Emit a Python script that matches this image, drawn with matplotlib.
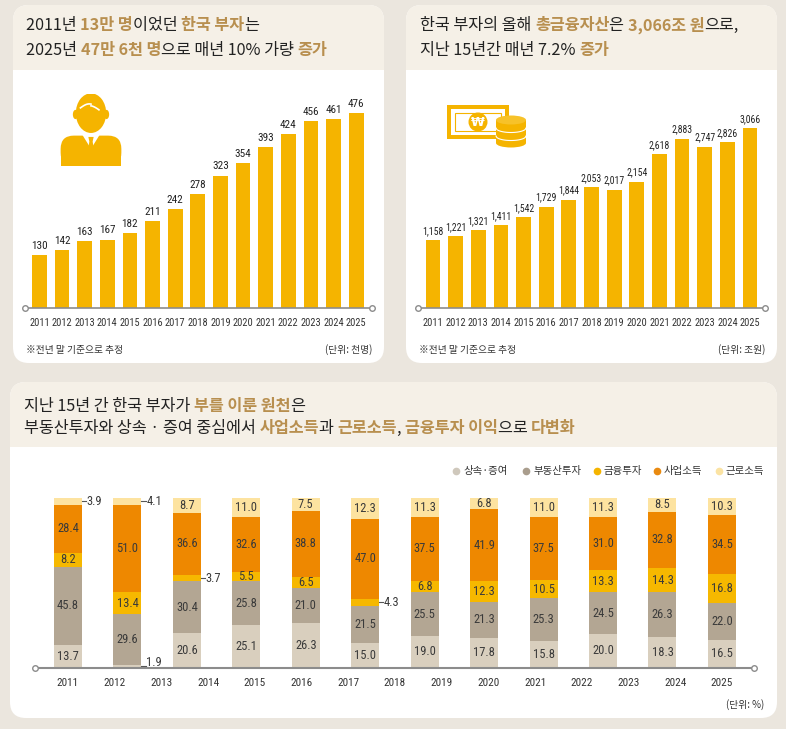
import matplotlib
matplotlib.use("Agg")
import matplotlib.pyplot as plt
from matplotlib import font_manager
from matplotlib.patches import FancyBboxPatch, Rectangle, Ellipse, Polygon, Circle
import numpy as np

# --------------------------
# Data
# --------------------------
years = list(range(2011, 2026))
rich_count = [130, 142, 163, 167, 182, 211, 242, 278, 323, 354, 393, 424, 456, 461, 476]
fin_assets = [1158, 1221, 1321, 1411, 1542, 1729, 1844, 2053, 2017, 2154,
              2618, 2883, 2747, 2826, 3066]

source_names = ["상속·증여", "부동산투자", "금융투자", "사업소득", "근로소득"]
inherit = [13.7, 1.9, 20.6, 25.1, 26.3, 15.0, 19.0, 17.8, 15.8, 20.0, 18.3, 16.5]
realestate = [45.8, 29.6, 30.4, 25.8, 21.0, 21.5, 25.5, 21.3, 25.3, 24.5, 26.3, 22.0]
financial = [8.2, 13.4, 3.7, 5.5, 6.5, 4.3, 6.8, 12.3, 10.5, 13.3, 14.3, 16.8]
business = [28.4, 51.0, 36.6, 32.6, 38.8, 47.0, 37.5, 41.9, 37.5, 31.0, 32.8, 34.5]
labor = [3.9, 4.1, 8.7, 11.0, 7.5, 12.3, 11.3, 6.8, 11.0, 11.3, 8.5, 10.3]

# --------------------------
# Style
# --------------------------
W, H = 786, 729
BG = "#ebe6de"
HEAD = "#f5f0e7"
DARK = "#222222"
GOLD = "#b88f4f"
BAR = "#f5b400"
seg_colors = ["#d9cfbe", "#b3a693", "#f6b800", "#ee8800", "#fde3a0"]
dot_colors = ["#cfc8bc", "#a99d8d", "#f5b400", "#e98a10", "#fbe3a3"]

available = {f.name for f in font_manager.fontManager.ttflist}


def pick(*names):
    for n in names:
        if n in available:
            return n
    return "DejaVu Sans"


KR = "Noto Sans CJK KR"
NUM = pick("Liberation Sans Narrow", "Roboto Condensed", "Roboto")
print("number font:", NUM)

fig = plt.figure(figsize=(W / 100, H / 100), dpi=100)
fig.patch.set_facecolor(BG)

bg = fig.add_axes([0, 0, 1, 1])
bg.set_xlim(0, W)
bg.set_ylim(H, 0)
bg.axis("off")


def panel(x0, y0, x1, y1, head_end):
    box = FancyBboxPatch((x0, y0), x1 - x0, y1 - y0,
                         boxstyle="round,pad=0,rounding_size=16",
                         fc="white", ec="none")
    bg.add_patch(box)
    head = Rectangle((x0, y0), x1 - x0, head_end - y0, fc=HEAD, ec="none")
    bg.add_patch(head)
    head.set_clip_path(box)


def rich(x, y, parts, size=11.7):
    r = fig.canvas.get_renderer()
    for s, c in parts:
        t = bg.text(x, y, s, color=c, fontsize=size, family=KR,
                    fontweight="bold" if c == GOLD else "medium",
                    va="center", ha="left")
        x += t.get_window_extent(r).width


def px_axes(x0, y0, x1, y1):
    return fig.add_axes([x0 / W, 1 - y1 / H, (x1 - x0) / W, (y1 - y0) / H])


panel(13, 5, 384, 363, 70)
panel(406, 5, 777, 363, 70)
panel(10, 382, 777, 718, 447)

rich(26, 25, [("2011년 ", DARK), ("13만 명", GOLD), ("이었던 ", DARK),
              ("한국 부자", GOLD), ("는", DARK)])
rich(26, 50, [("2025년 ", DARK), ("47만 6천 명", GOLD),
              ("으로 매년 10% 가량 ", DARK), ("증가", GOLD)])
rich(420, 25, [("한국 부자의 올해 ", DARK), ("총금융자산", GOLD), ("은 ", DARK),
               ("3,066조 원", GOLD), ("으로,", DARK)])
rich(420, 50, [("지난 15년간 매년 7.2% ", DARK), ("증가", GOLD)])
rich(24, 406, [("지난 15년 간 한국 부자가 ", DARK), ("부를 이룬 원천", GOLD), ("은", DARK)])
rich(24, 428, [("부동산투자와 상속 · 증여 중심에서 ", DARK), ("사업소득", GOLD),
               ("과 ", DARK), ("근로소득", GOLD), (", ", DARK),
               ("금융투자 이익", GOLD), ("으로 ", DARK), ("다변화", GOLD)])

# footnotes
for x0, x1, unit in [(26, 372, "(단위: 천명)"), (419, 765, "(단위: 조원)")]:
    bg.text(x0, 350, "※전년 말 기준으로 추정", family=KR, fontsize=7, color="#333",
            va="center")
    bg.text(x1, 350, unit, family=KR, fontsize=7, color="#333", va="center",
            ha="right")
bg.text(764, 705, "(단위: %)", family=KR, fontsize=7, color="#333", va="center",
        ha="right")

# legend of the bottom chart
for name, c, x in zip(source_names, dot_colors, [456, 526, 597, 657, 719]):
    bg.plot(x, 471, "o", color=c, ms=4.5)
    bg.text(x + 7, 471, name, family=KR, fontsize=7.5, color="#333", va="center")


# --------------------------
# Top bar charts
# --------------------------
def top_chart(rect, values, x_lo, x_hi, y_hi, fmt, lab_size):
    ax = px_axes(*rect)
    x = np.arange(len(values))
    ax.bar(x, values, width=0.65, color=BAR, zorder=2)
    for xi, v in zip(x, values):
        ax.annotate(fmt(v), (xi, v), xytext=(0, 3), textcoords="offset points",
                    ha="center", va="bottom", fontsize=lab_size, family=NUM,
                    color=DARK)
    ax.set_xlim(x_lo, x_hi)
    ax.set_ylim(0, y_hi)
    ax.plot([x_lo, x_hi], [0, 0], color="#8c8c8c", lw=1.2, zorder=3, clip_on=False)
    ax.plot([x_lo, x_hi], [0, 0], "o", mfc="white", mec="#8c8c8c", ms=4,
            mew=1, zorder=4, clip_on=False)
    ax.set_xticks(x)
    ax.set_xticklabels([str(y) for y in years], family=NUM, fontsize=7.5,
                       color="#333")
    ax.tick_params(axis="x", length=0, pad=7)
    ax.set_yticks([])
    for s in ax.spines.values():
        s.set_visible(False)
    ax.patch.set_alpha(0)
    return ax


top_chart((25, 100, 372, 308), rich_count, -0.64, 14.7, 208 / 0.41,
          lambda v: f"{v}", 8)
top_chart((418, 100, 765, 308), fin_assets, -0.66, 14.66, 208 / 0.0587,
          lambda v: f"{v:,}", 7)

# --------------------------
# Icons
# --------------------------
ic = px_axes(58, 94, 124, 166)
ic.set_xlim(0, 100)
ic.set_ylim(0, 109)
ic.axis("off")
ic.add_patch(FancyBboxPatch((4, 0), 92, 46, boxstyle="round,pad=0,rounding_size=20",
                            fc=BAR, ec="none"))
ic.add_patch(Rectangle((4, 0), 92, 15, fc=BAR, ec="none"))
ic.add_patch(Polygon([(37, 47), (50, 26), (63, 47)], fc="white", ec="none"))
ic.add_patch(Polygon([(46, 44), (54, 44), (52.5, 37), (56, 14), (50, 6), (44, 14),
                      (47.5, 37)], fc=BAR, ec="none"))
ic.add_patch(Rectangle((38, 46), 24, 8, fc="white", ec="none"))
ic.add_patch(Ellipse((26.5, 78), 8, 14, fc=BAR, ec="none"))
ic.add_patch(Ellipse((73.5, 78), 8, 14, fc=BAR, ec="none"))
ic.add_patch(Ellipse((50, 80), 46, 60, fc=BAR, ec="none"))
t = np.linspace(0, 1, 30)
ic.plot(34 + 16 * t, 88 + 6 * np.sin(t * np.pi * 0.6), color="white", lw=1.2)
ic.plot(50 + 12 * t, 91 - 6 * t ** 1.5, color="white", lw=1.2)

mo = px_axes(444, 100, 532, 152)
mo.set_xlim(0, 88)
mo.set_ylim(0, 52)
mo.axis("off")
mo.add_patch(Rectangle((3, 13), 62, 34, fc=BAR, ec="none"))
mo.add_patch(Rectangle((7, 17), 54, 26, fc="white", ec="none"))
mo.add_patch(Rectangle((11, 21), 46, 18, fc="white", ec=BAR, lw=0.8))
mo.add_patch(Circle((34, 30), 9.5, fc=BAR, ec="none"))
mo.text(34, 30, "₩", color="white", fontsize=9, fontweight="bold",
        ha="center", va="center", family="DejaVu Sans")
mo.add_patch(Ellipse((67, 9), 30, 9, fc=BAR, ec="none"))
mo.add_patch(Rectangle((52, 9), 30, 23, fc=BAR, ec="none"))
mo.add_patch(Ellipse((67, 32), 30, 9, fc="#f7c229", ec="none"))
for yy in [16, 24]:
    tt = np.linspace(-1, 1, 40)
    mo.plot(67 + 15 * tt, yy - 4.5 * np.sqrt(1 - tt ** 2), color="white", lw=0.8)

# --------------------------
# Bottom stacked chart
# --------------------------
ax = px_axes(35, 494, 754, 668)
series = [inherit, realestate, financial, business, labor]
xb = np.arange(len(inherit))
bottom = np.zeros(len(xb))
bw = 0.47
for si, (vals, c) in enumerate(zip(series, seg_colors)):
    ax.bar(xb, vals, bottom=bottom, width=bw, color=c, zorder=2)
    for xi, v, b in zip(xb, vals, bottom):
        if v >= 5:
            ax.text(xi, b + v / 2, f"{v:.1f}", ha="center", va="center",
                    family=NUM, fontsize=9, color="#3a3a3a", zorder=3)
        else:
            yc = b + v / 2
            x_edge = xi + bw / 2
            ty = yc + 2.5 if si == 0 else yc
            ax.plot([x_edge, x_edge + 0.07], [yc, yc], color="#555", lw=0.8,
                    zorder=3, clip_on=False)
            ax.text(x_edge + 0.08, ty, f"{v:.1f}", ha="left", va="center",
                    family=NUM, fontsize=9, color="#3a3a3a", zorder=3)
    bottom += np.array(vals)

lo, hi = -0.555, 11.54
ax.set_xlim(lo, hi)
ax.set_ylim(0, 174 / 1.7)
ax.plot([lo, hi], [0, 0], color="#8c8c8c", lw=1.5, zorder=3, clip_on=False)
ax.plot([lo, hi], [0, 0], "o", mfc="white", mec="#8c8c8c", ms=4, mew=1,
        zorder=4, clip_on=False)
ax.set_xticks(np.linspace(0, len(xb) - 1, len(years)))
ax.set_xticklabels([str(y) for y in years], family=NUM, fontsize=8, color="#333")
ax.tick_params(axis="x", length=0, pad=7)
ax.set_yticks([])
for s in ax.spines.values():
    s.set_visible(False)
ax.patch.set_alpha(0)

plt.savefig("out.png", dpi=100, facecolor=BG)
plt.close()
